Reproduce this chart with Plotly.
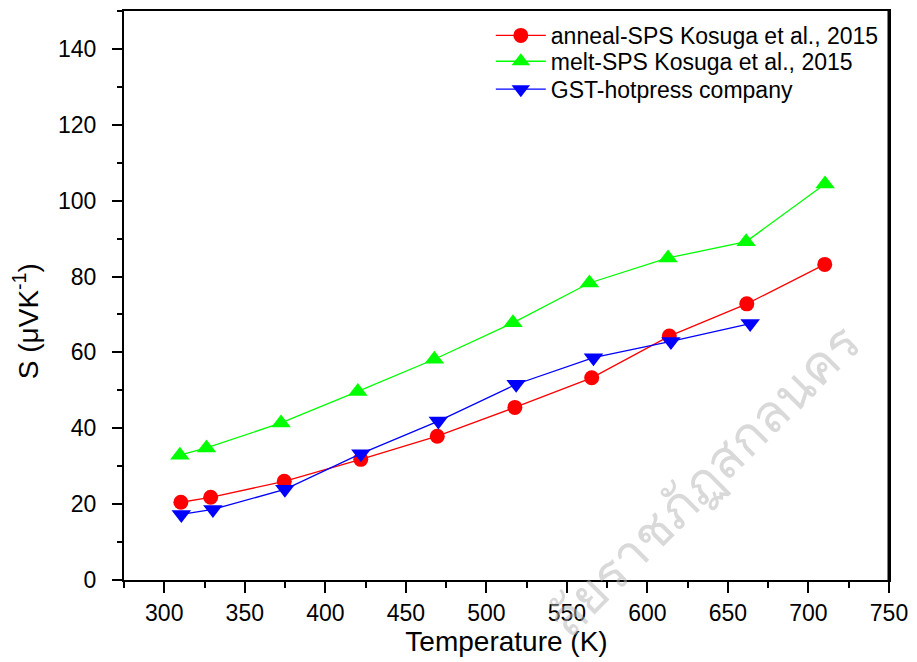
import plotly.graph_objects as go

# Seebeck coefficient vs temperature
anneal_T = [310.3, 328.8, 374.5, 422.0, 469.5, 517.7, 565.4, 613.6, 661.7, 710.1]
anneal_S = [20.5, 21.8, 26.0, 31.8, 37.9, 45.5, 53.3, 64.3, 72.8, 83.2]

melt_T = [309.7, 326.2, 372.5, 420.2, 467.7, 516.5, 564.0, 612.8, 661.3, 710.3]
melt_S = [32.9, 34.8, 41.4, 49.7, 58.2, 67.8, 78.3, 84.9, 89.2, 104.4]

gst_T = [310.6, 330.2, 374.9, 422.1, 470.2, 518.5, 566.5, 614.6, 663.8]
gst_S = [17.3, 18.6, 23.9, 33.3, 41.9, 51.6, 58.6, 62.9, 67.6]

FONT = "Arial, Liberation Sans, sans-serif"

fig = go.Figure()
fig.add_trace(go.Scatter(
    x=anneal_T, y=anneal_S, mode="lines+markers",
    name="anneal-SPS Kosuga et al., 2015", legend="legend",
    line=dict(color="#ff0000", width=1.3),
    marker=dict(symbol="circle", size=15, color="#ff0000"),
))
fig.add_trace(go.Scatter(
    x=melt_T, y=melt_S, mode="lines+markers",
    name="melt-SPS Kosuga et al., 2015", legend="legend2",
    line=dict(color="#00ff00", width=1.3),
    marker=dict(symbol="triangle-up", size=17, color="#00ff00"),
))
fig.add_trace(go.Scatter(
    x=gst_T, y=gst_S, mode="lines+markers",
    name="GST-hotpress company", legend="legend3",
    line=dict(color="#0000ff", width=1.3),
    marker=dict(symbol="triangle-down", size=17, color="#0000ff"),
))

# watermark
fig.add_annotation(
    text="ลัยราชภัฏสกลนคร",
    xref="paper", yref="paper", x=0.7555, y=0.1786,
    xanchor="center", yanchor="middle",
    showarrow=False, textangle=-45,
    font=dict(family="Noto Sans, sans-serif", size=52, color="rgba(180,180,180,0.5)"),
)

# y-axis title
fig.add_annotation(
    text="S (μVK<sup>-1</sup>)",
    xref="paper", yref="paper", x=-0.128, y=0.455,
    xanchor="center", yanchor="middle",
    showarrow=False, textangle=-90,
    font=dict(family=FONT, size=28, color="black"),
)

# heavier right frame edge
fig.add_shape(type="line", xref="paper", yref="paper", x0=1, x1=1, y0=0, y1=1,
              line=dict(color="black", width=3))


def legend_row(y):
    return dict(
        x=0.4795, y=y, xanchor="left", yanchor="middle",
        bgcolor="rgba(0,0,0,0)", font=dict(size=23, family=FONT),
        itemwidth=50,
    )


fig.update_layout(
    width=917, height=662,
    margin=dict(l=124, r=24, t=9, b=82),
    paper_bgcolor="white", plot_bgcolor="white",
    font=dict(family=FONT, size=23, color="black"),
    showlegend=True,
    legend=legend_row(0.957),
    legend2=legend_row(0.9116),
    legend3=legend_row(0.8625),
    xaxis=dict(
        range=[275, 750], tickvals=[300, 350, 400, 450, 500, 550, 600, 650, 700, 750],
        ticks="outside", ticklen=11, tickwidth=2, tickcolor="black",
        tickfont=dict(size=23),
        minor=dict(dtick=25, tick0=275, ticks="outside", ticklen=6, tickwidth=2, tickcolor="black"),
        showline=True, linecolor="black", linewidth=2, mirror=True,
        showgrid=False, zeroline=False,
        title=dict(text="Temperature (K)", font=dict(size=28, family=FONT), standoff=7),
    ),
    yaxis=dict(
        range=[0, 150], tickvals=[0, 20, 40, 60, 80, 100, 120, 140],
        ticks="outside", ticklen=10, tickwidth=2, tickcolor="black",
        tickfont=dict(size=23), ticklabelstandoff=11,
        minor=dict(dtick=10, tick0=0, ticks="outside", ticklen=5, tickwidth=2, tickcolor="black"),
        showline=True, linecolor="black", linewidth=2, mirror=True,
        showgrid=False, zeroline=False,
    ),
)

fig.write_html("out.html")
